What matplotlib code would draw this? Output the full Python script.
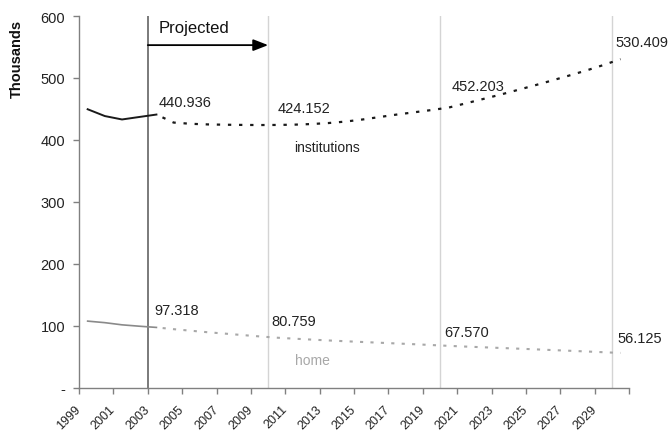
import matplotlib
matplotlib.use("Agg")
import matplotlib.pyplot as plt

plt.rcParams['font.family'] = ['Liberation Sans', 'DejaVu Sans']

# ---- data ----
hist_years = [1999, 2000, 2001, 2002, 2003]
inst_hist = [449.5, 438.5, 433.0, 437.0, 440.936]
home_hist = [107.5, 105.0, 101.5, 99.3, 97.318]

proj_years = list(range(2003, 2031))
inst_proj = [440.936, 428.0, 426.0, 425.0, 424.5, 424.2, 424.0, 424.152,
             424.6, 425.6, 427.2, 429.6, 433.0, 437.0, 441.0, 444.6, 448.2,
             452.203, 459.0, 466.0, 473.0, 480.5, 488.0, 495.8, 503.8,
             512.0, 520.8, 530.409]
home_proj = [97.318, 94.5, 92.0, 89.5, 87.3, 85.0, 82.8, 80.759,
             79.2, 77.7, 76.3, 75.0, 73.8, 72.6, 71.4, 70.2, 68.9,
             67.570, 66.4, 65.3, 64.2, 63.1, 62.0, 60.8, 59.7, 58.5, 57.3,
             56.125]

label_years = [2003, 2010, 2020, 2030]
inst_labels = ["440.936", "424.152", "452.203", "530.409"]
home_labels = ["97.318", "80.759", "67.570", "56.125"]
inst_label_vals = [440.936, 424.152, 452.203, 530.409]
home_label_vals = [97.318, 80.759, 67.570, 56.125]

yticks = [0, 100, 200, 300, 400, 500, 600]
ytick_labels = ["-", "100", "200", "300", "400", "500", "600"]
xtick_years = list(range(1999, 2032, 2))
xtick_labels = [str(y) for y in range(1999, 2030, 2)] + [""]
divider_years = [2003, 2010, 2020, 2030]

# ---- figure ----
fig = plt.figure(figsize=(6.7, 4.35), dpi=100)
ax = fig.add_axes([0.118, 0.1064, 0.821, 0.8545])

off = 0.5  # category centre
ax.set_xlim(1999, 2031)
ax.set_ylim(0, 600)

# vertical divider lines
for y in divider_years:
    if y == 2003:
        ax.axvline(y, color='#707070', lw=1.3, zorder=1)
    else:
        ax.axvline(y, color='#d4d4d4', lw=1.0, zorder=1)

hx = [y + off for y in hist_years]
px = [y + off for y in proj_years]
ax.plot(hx, inst_hist, color='#1a1a1a', lw=1.4, zorder=3)
ax.plot(px, inst_proj, color='#1a1a1a', lw=1.6, ls=(2, (1.5, 3.5)), zorder=3)
ax.plot(hx, home_hist, color='#8a8a8a', lw=1.2, zorder=3)
ax.plot(px, home_proj, color='#a8a8a8', lw=1.5, ls=(2, (1.5, 3.5)), zorder=3)

inst_offsets = [(2, 13), (1, 17), (3, 22), (-5, 17)]
home_offsets = [(-2, 17), (-5, 17), (-4, 14), (-3, 15)]
for yr, v, t, o in zip(label_years, inst_label_vals, inst_labels, inst_offsets):
    ax.annotate(t, (yr + off, v), xytext=o, textcoords='offset pixels',
                ha='left', va='center', fontsize=10.5, color='#222222')
for yr, v, t, o in zip(label_years, home_label_vals, home_labels, home_offsets):
    ax.annotate(t, (yr + off, v), xytext=o, textcoords='offset pixels',
                ha='left', va='center', fontsize=10.5, color='#222222')

ax.text(2011.5, 388, "institutions", ha='left', va='center', fontsize=10,
        color='#222222')
ax.text(2011.55, 45, "home", ha='left', va='center', fontsize=10,
        color='#a8a8a8')

# projected arrow
ax.annotate("", xy=(2010, 553), xytext=(2003, 553),
            arrowprops=dict(arrowstyle='-|>,head_length=0.9,head_width=0.35',
                            color='black', lw=1.3, shrinkA=0, shrinkB=0))
ax.text(2003.6, 581, "Projected", ha='left', va='center', fontsize=12,
        color='#111111')

# axes styling
for s in ['top', 'right']:
    ax.spines[s].set_visible(False)
for s in ['left', 'bottom']:
    ax.spines[s].set_color('#808080')
    ax.spines[s].set_linewidth(1.0)

ax.set_yticks(yticks)
ax.set_yticklabels(ytick_labels, fontsize=10.5, color='#222222')
ax.set_xticks(xtick_years)
ax.set_xticklabels(xtick_labels, fontsize=9, color='#222222',
                   rotation=45, ha='right', va='center',
                   rotation_mode='anchor')
ax.tick_params(axis='both', color='#808080', length=4, width=1.0)
ax.tick_params(axis='x', pad=10)
ax.tick_params(axis='y', pad=6)

fig.text(0.025, 0.865, "Thousands", rotation=90, ha='center', va='center',
         fontsize=10.5, fontweight='bold', color='#111111')

fig.savefig("out.png", dpi=100)
